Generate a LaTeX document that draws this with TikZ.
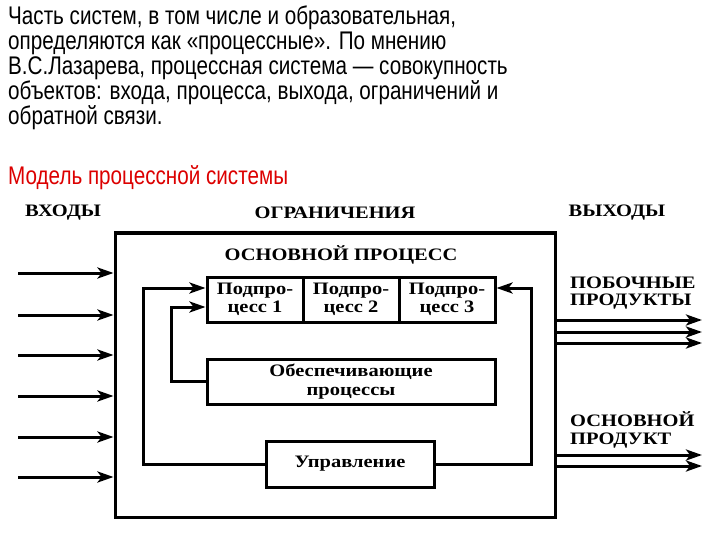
\documentclass[tikz,border=0pt]{standalone}
\usepackage{fontspec}
\setmainfont{Liberation Serif}
\newfontfamily\slidefont[FakeStretch=0.81]{Liberation Sans}
\newfontfamily\chartfont[FakeStretch=1.17]{Liberation Serif}
\usetikzlibrary{arrows.meta}
\definecolor{slidered}{RGB}{220,0,0}
\begin{document}
\begin{tikzpicture}[x=1pt,y=-1pt,
    box/.style={
        draw,
        line width=3pt,
        inner sep=0pt,
        align=center,
        font=\chartfont\bfseries\fontsize{17.5}{18.5}\selectfont
    },
    tag/.style={
        inner sep=0pt,
        align=left,
        font=\chartfont\bfseries\fontsize{17.5}{17.5}\selectfont
    },
    flow/.style={line width=3pt,-{Stealth[length=16pt,width=11pt,inset=4pt]}}
]
\useasboundingbox (0,0) rectangle (720,540);

% slide text
\node[anchor=base west,inner sep=0pt,align=left,
      font=\slidefont\fontsize{25.5}{25}\selectfont] (intro) at (8,125)
    {Часть систем, в том числе и образовательная,\\
     определяются как «процессные». По мнению\\
     В.С.Лазарева, процессная система — совокупность\\
     объектов: входа, процесса, выхода, ограничений и\\
     обратной связи.};
\node[anchor=base west,inner sep=0pt,text=slidered,
      font=\slidefont\fontsize{25.5}{25}\selectfont] (title) at (8,185)
    {Модель процессной системы};

% headings
\node[tag] (inputs) at (63,213) {ВХОДЫ};
\node[tag] (limits) at (335,213) {ОГРАНИЧЕНИЯ};
\node[tag] (outputs) at (617,213) {ВЫХОДЫ};

% main process
\node[draw,line width=3pt,minimum width=440,minimum height=284,inner sep=0pt]
    (outer) at (335,375) {};
\node[tag] (main) at (341,255) {ОСНОВНОЙ ПРОЦЕСС};

\node[box,minimum width=96,minimum height=45] (sub1) at (255,299.5) {Подпро-\\цесс 1};
\node[box,minimum width=96,minimum height=45] (sub2) at (351,299.5) {Подпро-\\цесс 2};
\node[box,minimum width=96,minimum height=45] (sub3) at (447,299.5) {Подпро-\\цесс 3};

\node[box,minimum width=288,minimum height=45] (support) at (351,381.5)
    {Обеспечивающие\\процессы};
\node[box,minimum width=168,minimum height=46] (control) at (350,464) {Управление};

% output labels
\node[tag,anchor=west] (byprod) at (570,293) {ПОБОЧНЫЕ\\ПРОДУКТЫ};
\node[tag,anchor=west] (product) at (570,430) {ОСНОВНОЙ\\ПРОДУКТ};

% inputs
\foreach \y [count=\i] in {273,315,355,396,437,477} {
    \coordinate (in\i) at (18,\y);
    \draw[flow] (in\i) -- (in\i -| outer.west);
}

% outputs
\foreach \y [count=\i] in {320,332,343,455,466} {
    \coordinate (out\i) at (702,\y);
    \draw[flow] (out\i -| outer.east) -- (out\i);
}

% feedback
\coordinate (fbA) at (143,288);
\coordinate (fbB) at (171,307);
\coordinate (fbC) at (531,288);
\draw[flow] (control.west) -| (fbA) -- (fbA -| sub1.west);
\draw[flow] (support.west) -| (fbB) -- (fbB -| sub1.west);
\draw[flow] (control.east) -| (fbC) -- (fbC -| sub3.east);

\end{tikzpicture}
\end{document}
